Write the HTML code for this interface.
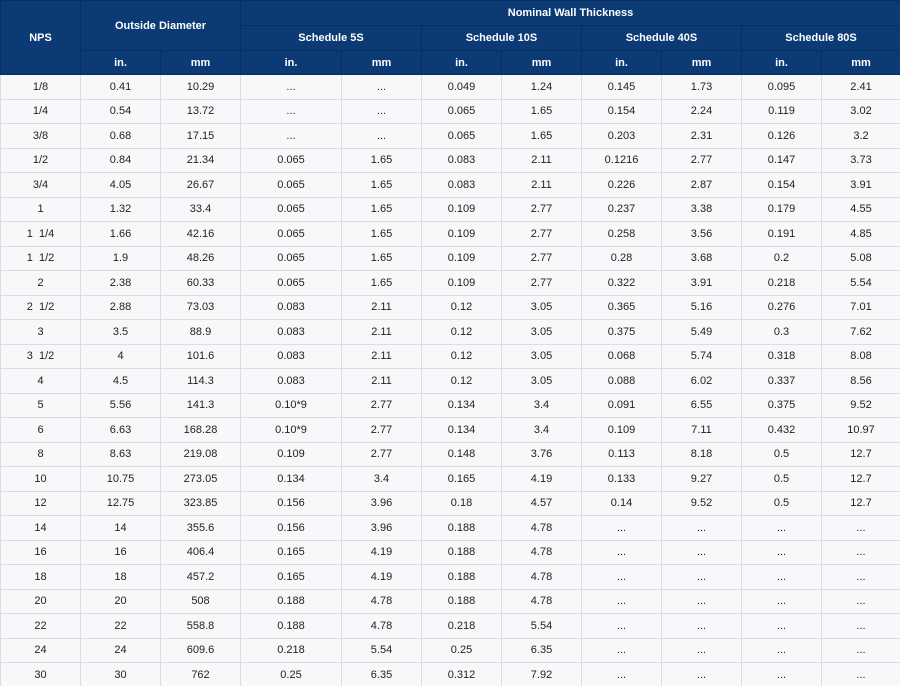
<!DOCTYPE html>
<html><head><meta charset="utf-8"><style>
html,body{margin:0;padding:0;width:900px;height:686px;overflow:hidden;background:#f7f8fa}
table{border-collapse:collapse;table-layout:fixed;width:900px;font-family:"Liberation Sans",sans-serif;font-size:11px;color:#222}
td,th{text-align:center;padding:0;border:1px solid #dcdde1;white-space:nowrap}
th{background:#0b3a75;color:#fff;font-weight:bold;border-color:#08305f;font-size:11px}
tr.h1 th{height:24px}tr.h2 th{height:24px}tr.h3 th{height:23px}
tbody td{height:23.5px;background:#f7f8fa}
</style></head><body>
<table>
<colgroup><col style="width:80px"><col style="width:80px"><col style="width:80px"><col style="width:101px"><col style="width:80px"><col style="width:80px"><col style="width:80px"><col style="width:80px"><col style="width:80px"><col style="width:80px"><col style="width:79px"></colgroup>
<thead>
<tr class="h1"><th rowspan="3">NPS</th><th rowspan="2" colspan="2">Outside Diameter</th><th colspan="8">Nominal Wall Thickness</th></tr>
<tr class="h2"><th colspan="2">Schedule 5S</th><th colspan="2">Schedule 10S</th><th colspan="2">Schedule 40S</th><th colspan="2">Schedule 80S</th></tr>
<tr class="h3"><th>in.</th><th>mm</th><th>in.</th><th>mm</th><th>in.</th><th>mm</th><th>in.</th><th>mm</th><th>in.</th><th>mm</th></tr>
</thead>
<tbody>
<tr><td>1/8</td><td>0.41</td><td>10.29</td><td>...</td><td>...</td><td>0.049</td><td>1.24</td><td>0.145</td><td>1.73</td><td>0.095</td><td>2.41</td></tr>
<tr><td>1/4</td><td>0.54</td><td>13.72</td><td>...</td><td>...</td><td>0.065</td><td>1.65</td><td>0.154</td><td>2.24</td><td>0.119</td><td>3.02</td></tr>
<tr><td>3/8</td><td>0.68</td><td>17.15</td><td>...</td><td>...</td><td>0.065</td><td>1.65</td><td>0.203</td><td>2.31</td><td>0.126</td><td>3.2</td></tr>
<tr><td>1/2</td><td>0.84</td><td>21.34</td><td>0.065</td><td>1.65</td><td>0.083</td><td>2.11</td><td>0.1216</td><td>2.77</td><td>0.147</td><td>3.73</td></tr>
<tr><td>3/4</td><td>4.05</td><td>26.67</td><td>0.065</td><td>1.65</td><td>0.083</td><td>2.11</td><td>0.226</td><td>2.87</td><td>0.154</td><td>3.91</td></tr>
<tr><td>1</td><td>1.32</td><td>33.4</td><td>0.065</td><td>1.65</td><td>0.109</td><td>2.77</td><td>0.237</td><td>3.38</td><td>0.179</td><td>4.55</td></tr>
<tr><td>1 &nbsp;1/4</td><td>1.66</td><td>42.16</td><td>0.065</td><td>1.65</td><td>0.109</td><td>2.77</td><td>0.258</td><td>3.56</td><td>0.191</td><td>4.85</td></tr>
<tr><td>1 &nbsp;1/2</td><td>1.9</td><td>48.26</td><td>0.065</td><td>1.65</td><td>0.109</td><td>2.77</td><td>0.28</td><td>3.68</td><td>0.2</td><td>5.08</td></tr>
<tr><td>2</td><td>2.38</td><td>60.33</td><td>0.065</td><td>1.65</td><td>0.109</td><td>2.77</td><td>0.322</td><td>3.91</td><td>0.218</td><td>5.54</td></tr>
<tr><td>2 &nbsp;1/2</td><td>2.88</td><td>73.03</td><td>0.083</td><td>2.11</td><td>0.12</td><td>3.05</td><td>0.365</td><td>5.16</td><td>0.276</td><td>7.01</td></tr>
<tr><td>3</td><td>3.5</td><td>88.9</td><td>0.083</td><td>2.11</td><td>0.12</td><td>3.05</td><td>0.375</td><td>5.49</td><td>0.3</td><td>7.62</td></tr>
<tr><td>3 &nbsp;1/2</td><td>4</td><td>101.6</td><td>0.083</td><td>2.11</td><td>0.12</td><td>3.05</td><td>0.068</td><td>5.74</td><td>0.318</td><td>8.08</td></tr>
<tr><td>4</td><td>4.5</td><td>114.3</td><td>0.083</td><td>2.11</td><td>0.12</td><td>3.05</td><td>0.088</td><td>6.02</td><td>0.337</td><td>8.56</td></tr>
<tr><td>5</td><td>5.56</td><td>141.3</td><td>0.10*9</td><td>2.77</td><td>0.134</td><td>3.4</td><td>0.091</td><td>6.55</td><td>0.375</td><td>9.52</td></tr>
<tr><td>6</td><td>6.63</td><td>168.28</td><td>0.10*9</td><td>2.77</td><td>0.134</td><td>3.4</td><td>0.109</td><td>7.11</td><td>0.432</td><td>10.97</td></tr>
<tr><td>8</td><td>8.63</td><td>219.08</td><td>0.109</td><td>2.77</td><td>0.148</td><td>3.76</td><td>0.113</td><td>8.18</td><td>0.5</td><td>12.7</td></tr>
<tr><td>10</td><td>10.75</td><td>273.05</td><td>0.134</td><td>3.4</td><td>0.165</td><td>4.19</td><td>0.133</td><td>9.27</td><td>0.5</td><td>12.7</td></tr>
<tr><td>12</td><td>12.75</td><td>323.85</td><td>0.156</td><td>3.96</td><td>0.18</td><td>4.57</td><td>0.14</td><td>9.52</td><td>0.5</td><td>12.7</td></tr>
<tr><td>14</td><td>14</td><td>355.6</td><td>0.156</td><td>3.96</td><td>0.188</td><td>4.78</td><td>...</td><td>...</td><td>...</td><td>...</td></tr>
<tr><td>16</td><td>16</td><td>406.4</td><td>0.165</td><td>4.19</td><td>0.188</td><td>4.78</td><td>...</td><td>...</td><td>...</td><td>...</td></tr>
<tr><td>18</td><td>18</td><td>457.2</td><td>0.165</td><td>4.19</td><td>0.188</td><td>4.78</td><td>...</td><td>...</td><td>...</td><td>...</td></tr>
<tr><td>20</td><td>20</td><td>508</td><td>0.188</td><td>4.78</td><td>0.188</td><td>4.78</td><td>...</td><td>...</td><td>...</td><td>...</td></tr>
<tr><td>22</td><td>22</td><td>558.8</td><td>0.188</td><td>4.78</td><td>0.218</td><td>5.54</td><td>...</td><td>...</td><td>...</td><td>...</td></tr>
<tr><td>24</td><td>24</td><td>609.6</td><td>0.218</td><td>5.54</td><td>0.25</td><td>6.35</td><td>...</td><td>...</td><td>...</td><td>...</td></tr>
<tr><td>30</td><td>30</td><td>762</td><td>0.25</td><td>6.35</td><td>0.312</td><td>7.92</td><td>...</td><td>...</td><td>...</td><td>...</td></tr>
</tbody></table>
</body></html>
